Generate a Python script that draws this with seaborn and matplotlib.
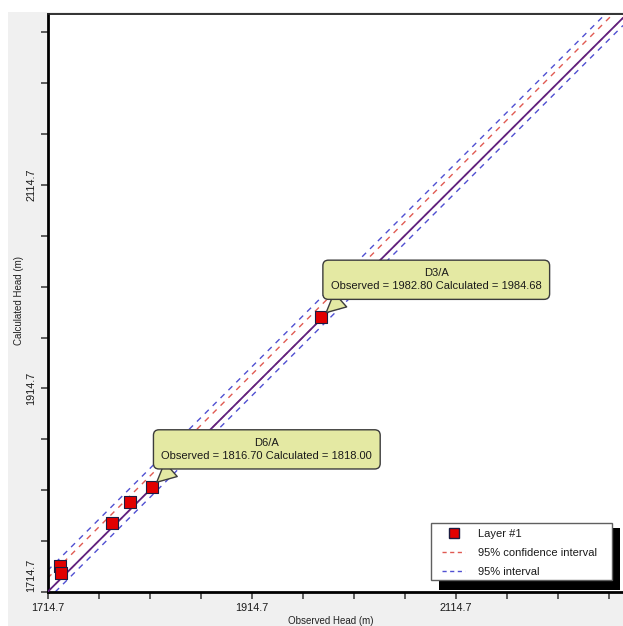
import matplotlib
matplotlib.use("Agg")
import matplotlib.pyplot as plt
import matplotlib.ticker as mticker
from matplotlib.lines import Line2D
from matplotlib.patches import Rectangle
import seaborn as sns
import numpy as np
import pandas as pd

sns.set_theme(style="white")
plt.rcParams['font.family'] = ['Liberation Sans', 'DejaVu Sans']

# Data
observed = [1727.0, 1727.6, 1777.9, 1795.6, 1816.70, 1982.80]
calculated = [1740.3, 1733.2, 1782.5, 1803.1, 1818.00, 1984.68]
point_names = ['', '', '', '', 'D6/A', 'D3/A']

# interval lines, as offsets from the 1:1 line (y = x + offset)
conf_offsets = [13.5, 0.0]
pred_offsets = [21.0, -7.5]

tick_start = 1714.7
tick_step = 50
label_step = 200
n_ticks = 12

# colours
marker_red = '#e20000'
marker_edge = '#1c1c40'
conf_color = '#e05a52'
pred_color = '#5050d2'
line_color = '#5f2280'
box_fill = '#e4e9a3'
box_edge = '#3c3c3c'

df = pd.DataFrame({'observed': observed, 'calculated': calculated, 'name': point_names})

fig = plt.figure(figsize=(6.23, 6.26), dpi=100, facecolor='white')
fig.add_artist(Rectangle((8 / 623, 0), 1, 1 - 12 / 626, transform=fig.transFigure,
                         facecolor='#f0f0f0', edgecolor='none', zorder=-5))
ax = fig.add_axes([47.5 / 623, 34 / 626, 575.5 / 623, 578 / 626])
ax.set_facecolor('white')
ax.set_xlim(1714.7, 2278.9)
ax.set_ylim(1714.7, 2282.7)

## lines
dash = (0, (4, 4))
for off in pred_offsets:
    ax.axline((tick_start, tick_start + off), slope=1, color=pred_color, ls=dash, lw=1, zorder=2)
for off in conf_offsets:
    ax.axline((tick_start, tick_start + off), slope=1, color=conf_color, ls=dash, lw=1, zorder=2)
ax.axline((tick_start, tick_start), slope=1, color=line_color, lw=1.3, zorder=3)

## points
sns.scatterplot(data=df, x='observed', y='calculated', marker='s', s=82,
                color=marker_red, edgecolor=marker_edge, linewidth=0.8,
                zorder=4, legend=False, ax=ax)

## callouts
for _, row in df[df['name'] != ''].iterrows():
    txt = f"{row['name']}\nObserved = {row['observed']:.2f} Calculated = {row['calculated']:.2f}"
    ax.annotate(txt, xy=(row['observed'], row['calculated']), xytext=(83, 27),
                textcoords='offset points', ha='center', va='center',
                multialignment='center', fontsize=8, color='#1a1a1a', linespacing=1.4,
                bbox=dict(boxstyle='round,pad=0.72,rounding_size=0.5', fc=box_fill, ec=box_edge, lw=1),
                arrowprops=dict(arrowstyle='wedge,tail_width=1.7,shrink_factor=0.5',
                                fc=box_fill, ec=box_edge, lw=1, relpos=(0.09, 0.0),
                                shrinkA=0, shrinkB=5),
                zorder=6)

## ticks
ticks = tick_start + tick_step * np.arange(n_ticks)
def tick_fmt(v, pos):
    k = (v - tick_start) / label_step
    return f"{v:.1f}" if abs(k - round(k)) < 1e-6 else ''

for axis in (ax.xaxis, ax.yaxis):
    axis.set_major_locator(mticker.FixedLocator(ticks))
    axis.set_major_formatter(mticker.FuncFormatter(tick_fmt))
ax.tick_params(direction='out', length=5, width=1.1, color='#333333', labelsize=7.8,
               labelcolor='#1a1a1a', pad=3, bottom=True, left=True)
ax.tick_params(axis='y', labelrotation=90)
for i, t in enumerate(ax.yaxis.get_major_ticks()):
    t.label1.set_va('bottom' if i == 0 else 'center')

for side in ['left', 'bottom']:
    ax.spines[side].set_linewidth(2)
    ax.spines[side].set_color('black')
ax.spines['top'].set_linewidth(1.3)
ax.spines['top'].set_color('#222222')
ax.spines['right'].set_visible(False)

ax.set_xlabel('Observed Head (m)', fontsize=7, color='#222222')
ax.set_ylabel('Calculated Head (m)', fontsize=7, color='#222222')
ax.xaxis.set_label_coords(0.492, -0.041)
ax.yaxis.set_label_coords(-0.04, 0.505)

## legend: own frame with a solid black drop shadow
frame = (0.6664, 0.0208, 0.3145, 0.0986)
ax.add_patch(Rectangle((frame[0] + 0.0139, frame[1] - 0.0173), frame[2], frame[3] + 0.008,
                       transform=ax.transAxes, facecolor='black', edgecolor='none',
                       clip_on=False, zorder=7))
ax.add_patch(Rectangle(frame[:2], frame[2], frame[3], transform=ax.transAxes,
                       facecolor='white', edgecolor='#606060', lw=1, clip_on=False, zorder=7.5))
handles = [Line2D([], [], marker='s', ls='none', color=marker_red, mec=marker_edge, markersize=7),
           Line2D([], [], color=conf_color, ls=(0, (3, 2.5)), lw=1),
           Line2D([], [], color=pred_color, ls=(0, (3, 2.5)), lw=1)]
leg = ax.legend(handles, ['Layer #1', '95% confidence interval', '95% interval'],
                loc='upper left', bbox_to_anchor=(0.6855, 0.109), borderaxespad=0,
                fontsize=8, frameon=False, handlelength=2.1, handletextpad=1.1,
                labelspacing=0.8, borderpad=0)
for t in leg.get_texts():
    t.set_color('#1a1a1a')
leg.set_zorder(8)

fig.savefig('out.png', dpi=100)
